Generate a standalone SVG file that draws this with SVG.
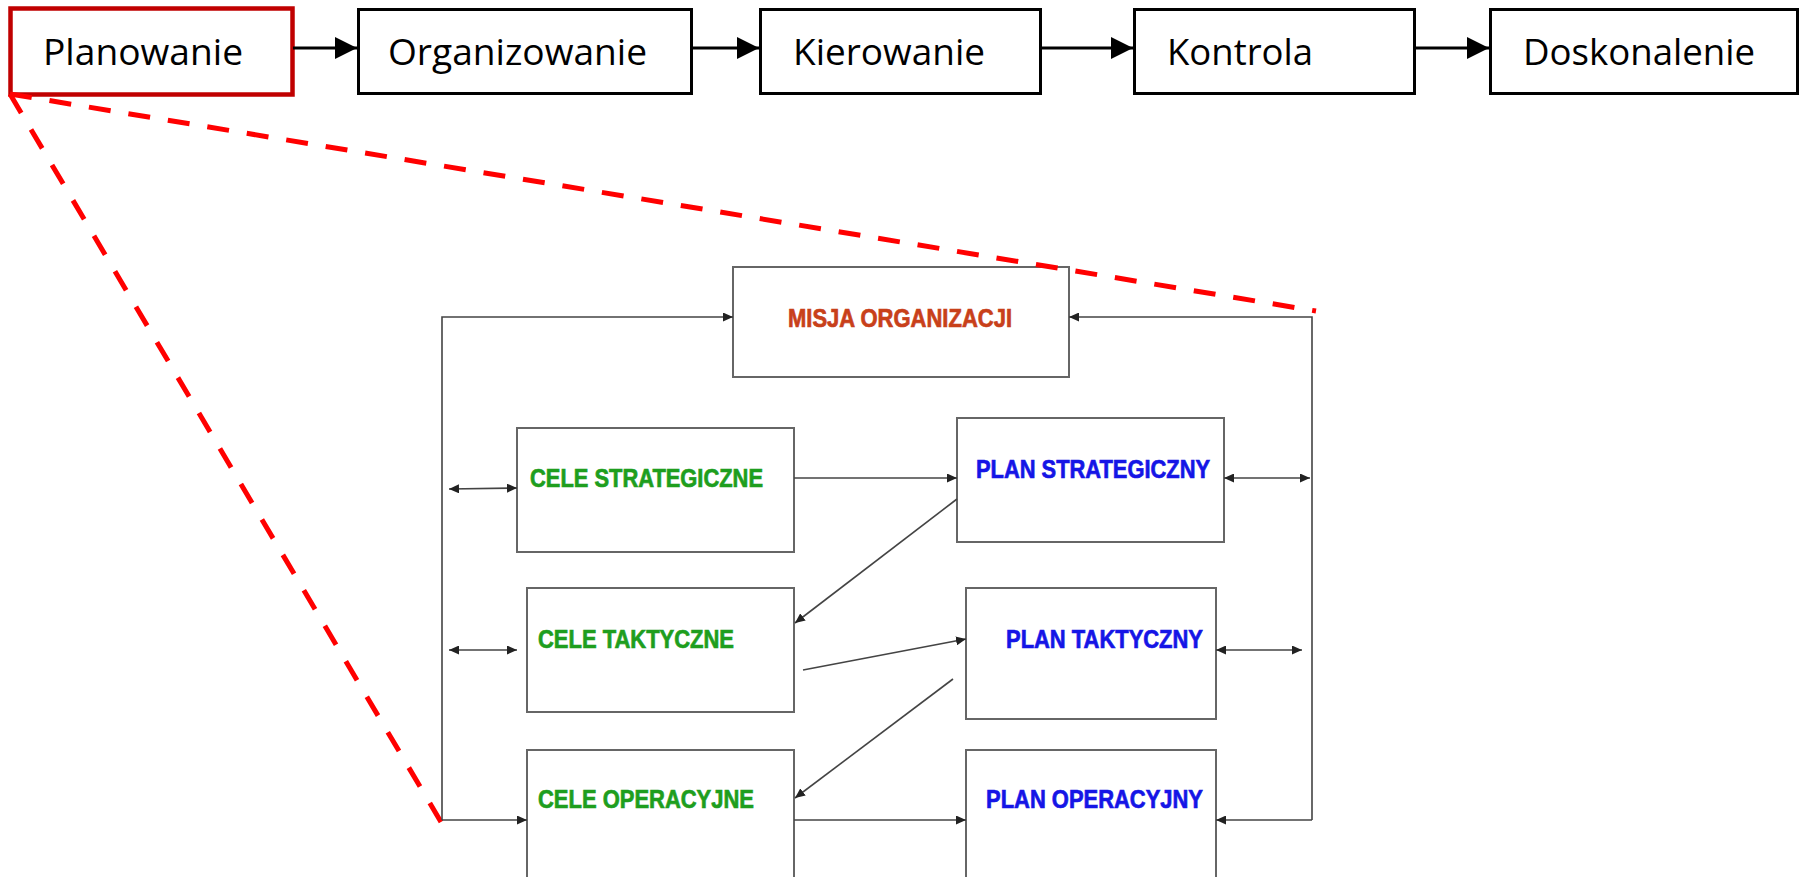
<svg xmlns="http://www.w3.org/2000/svg" width="1800" height="877" viewBox="0 0 1800 877">
  <style>
    .step { fill: #ffffff; stroke: #000000; stroke-width: 3; }
    .step-active { fill: #ffffff; stroke: #C00000; stroke-width: 4.5; }
    .step-label { font-family: "Open Sans", "Liberation Sans", sans-serif; font-size: 36px; fill: #000000; }
    .flow { stroke: #000000; stroke-width: 3; fill: none; }
    .zoom-edge { stroke: #FF0000; stroke-width: 5; stroke-dasharray: 22 18; fill: none; }
    .box { fill: #ffffff; stroke: #666666; stroke-width: 2; }
    .link { stroke: #444444; stroke-width: 1.6; fill: none; }
    .lbl { font-family: "Liberation Sans", Arial, sans-serif; font-weight: bold; font-size: 26px; stroke-width: 0.7; }
    .mission { fill: #C8401A; stroke: #C8401A; }
    .goal { fill: #1E9E1E; stroke: #1E9E1E; }
    .plan { fill: #1515E6; stroke: #1515E6; }
  </style>
  <defs>
    <marker id="bigHead" markerWidth="22" markerHeight="22" refX="22" refY="11" orient="auto" markerUnits="userSpaceOnUse">
      <path d="M0,0 L22,11 L0,22 z" fill="#000000"/>
    </marker>
    <marker id="head" markerWidth="10" markerHeight="9" refX="10" refY="4.5" orient="auto-start-reverse" markerUnits="userSpaceOnUse">
      <path d="M0,0 L10,4.5 L0,9 z" fill="#222222"/>
    </marker>
  </defs>

  <!-- management cycle steps -->
  <g id="planowanie">
    <rect class="step-active" x="10.5" y="8.5" width="282" height="86"/>
    <text class="step-label" x="43" y="65" textLength="200" lengthAdjust="spacingAndGlyphs">Planowanie</text>
  </g>
  <g id="organizowanie">
    <rect class="step" x="358.5" y="9.5" width="333" height="84"/>
    <text class="step-label" x="388" y="65" textLength="259" lengthAdjust="spacingAndGlyphs">Organizowanie</text>
  </g>
  <g id="kierowanie">
    <rect class="step" x="760.5" y="9.5" width="280" height="84"/>
    <text class="step-label" x="793" y="65" textLength="192" lengthAdjust="spacingAndGlyphs">Kierowanie</text>
  </g>
  <g id="kontrola">
    <rect class="step" x="1134.5" y="9.5" width="280" height="84"/>
    <text class="step-label" x="1167" y="65" textLength="146" lengthAdjust="spacingAndGlyphs">Kontrola</text>
  </g>
  <g id="doskonalenie">
    <rect class="step" x="1490.5" y="9.5" width="307" height="84"/>
    <text class="step-label" x="1523" y="65" textLength="232" lengthAdjust="spacingAndGlyphs">Doskonalenie</text>
  </g>

  <!-- planning hierarchy -->
  <g id="misja">
    <rect class="box" x="733" y="267" width="336" height="110"/>
    <text class="lbl mission" x="788" y="327" textLength="224" lengthAdjust="spacingAndGlyphs">MISJA ORGANIZACJI</text>
  </g>
  <g id="cele-strategiczne">
    <rect class="box" x="517" y="428" width="277" height="124"/>
    <text class="lbl goal" x="530" y="487" textLength="233" lengthAdjust="spacingAndGlyphs">CELE STRATEGICZNE</text>
  </g>
  <g id="plan-strategiczny">
    <rect class="box" x="957" y="418" width="267" height="124"/>
    <text class="lbl plan" x="976" y="478" textLength="234" lengthAdjust="spacingAndGlyphs">PLAN STRATEGICZNY</text>
  </g>
  <g id="cele-taktyczne">
    <rect class="box" x="527" y="588" width="267" height="124"/>
    <text class="lbl goal" x="538" y="648" textLength="196" lengthAdjust="spacingAndGlyphs">CELE TAKTYCZNE</text>
  </g>
  <g id="plan-taktyczny">
    <rect class="box" x="966" y="588" width="250" height="131"/>
    <text class="lbl plan" x="1006" y="648" textLength="197" lengthAdjust="spacingAndGlyphs">PLAN TAKTYCZNY</text>
  </g>
  <g id="cele-operacyjne">
    <rect class="box" x="527" y="750" width="267" height="160"/>
    <text class="lbl goal" x="538" y="808" textLength="216" lengthAdjust="spacingAndGlyphs">CELE OPERACYJNE</text>
  </g>
  <g id="plan-operacyjny">
    <rect class="box" x="966" y="750" width="250" height="160"/>
    <text class="lbl plan" x="986" y="808" textLength="217" lengthAdjust="spacingAndGlyphs">PLAN OPERACYJNY</text>
  </g>

  <g id="connectors">
    <!-- cycle flow -->
    <line class="flow" x1="293" y1="48" x2="357" y2="48" marker-end="url(#bigHead)"/>
    <line class="flow" x1="692" y1="48" x2="759" y2="48" marker-end="url(#bigHead)"/>
    <line class="flow" x1="1041" y1="48" x2="1133" y2="48" marker-end="url(#bigHead)"/>
    <line class="flow" x1="1415" y1="48" x2="1489" y2="48" marker-end="url(#bigHead)"/>

    <!-- zoom guides from the planning step -->
    <line class="zoom-edge" x1="10" y1="94" x2="441" y2="822" style="stroke-dasharray: 22 19.2"/>
    <line class="zoom-edge" x1="10" y1="94" x2="1316" y2="311"/>

    <!-- feedback loops -->
    <polyline class="link" points="442,820 442,317 733,317" marker-end="url(#head)"/>
    <polyline class="link" points="1312,820 1312,317 1069,317" marker-end="url(#head)"/>
    <line class="link" x1="442" y1="820" x2="527" y2="820" marker-end="url(#head)"/>
    <line class="link" x1="1312" y1="820" x2="1216" y2="820" marker-end="url(#head)"/>

    <!-- goals to plans -->
    <line class="link" x1="794" y1="478" x2="957" y2="478" marker-end="url(#head)"/>
    <line class="link" x1="803" y1="670" x2="966" y2="639" marker-end="url(#head)"/>
    <line class="link" x1="794" y1="820" x2="966" y2="820" marker-end="url(#head)"/>

    <!-- plans down to lower goals -->
    <line class="link" x1="957" y1="499" x2="795" y2="623" marker-end="url(#head)"/>
    <line class="link" x1="953" y1="679" x2="795" y2="798" marker-end="url(#head)"/>

    <!-- two-way links -->
    <line class="link" x1="449" y1="489" x2="517" y2="488" marker-start="url(#head)" marker-end="url(#head)"/>
    <line class="link" x1="449" y1="650" x2="517" y2="650" marker-start="url(#head)" marker-end="url(#head)"/>
    <line class="link" x1="1224" y1="478" x2="1310" y2="478" marker-start="url(#head)" marker-end="url(#head)"/>
    <line class="link" x1="1216" y1="650" x2="1302" y2="650" marker-start="url(#head)" marker-end="url(#head)"/>
  </g>
</svg>
